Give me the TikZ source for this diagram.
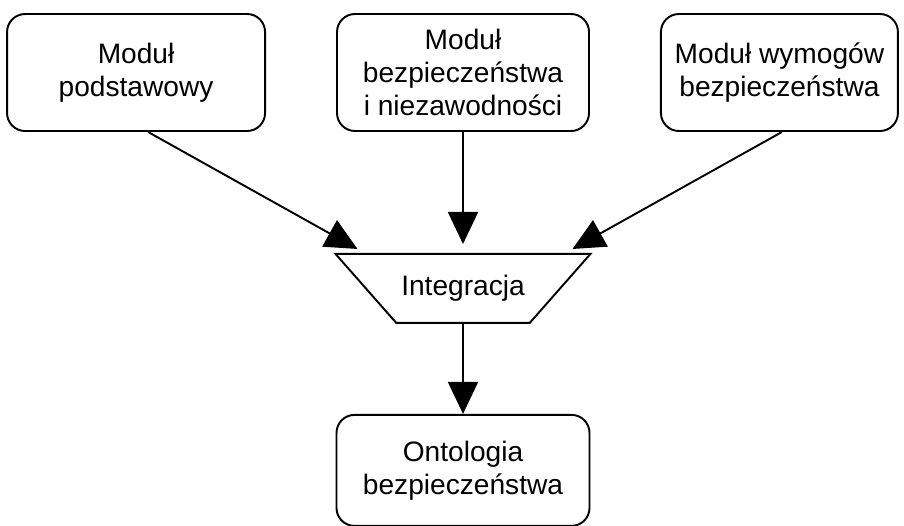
\documentclass[tikz,border=0pt]{standalone}
\usepackage{fontspec}
\setmainfont{Liberation Sans}
\usetikzlibrary{
	shapes.geometric,
	arrows.meta,
	positioning
}

\begin{document}
\begin{tikzpicture}[
				modul/.style={
					rectangle, draw, rounded corners=0.36cm,
					line width=1.1pt, inner sep=0pt,
					minimum height=2.34cm,
					align=center, font=\fontsize{16}{18.6}\selectfont
				},
				integr/.style={
					trapezium, draw, shape border rotate=180,
					trapezium angle=25, trapezium stretches=true,
					minimum width=5.1cm, minimum height=1.38cm,
					line width=1.1pt, inner sep=0pt,
					font=\fontsize{16}{18.6}\selectfont
				},
				arrow/.style={-{Triangle[length=0.64cm, width=0.6cm]}, line width=1.1pt, black}
				]
				\useasboundingbox (0,0) rectangle (18.08,-10.5);
				
				% modul bezpieczenstwa (srodek)
				\node[modul, minimum width=5.04cm] (bezp) at (9.26,-1.45) {Moduł\\bezpieczeństwa\\i niezawodności};
				
				% modul podstawowy
				\node[modul, minimum width=5.16cm, left=1.4cm of bezp] (podst) {Moduł\\podstawowy};
				
				% modul wymogow
				\node[modul, minimum width=4.74cm, right=1.4cm of bezp] (wymog) {Moduł wymogów\\bezpieczeństwa};
				
				% integracja
				\node[integr, below=2.42cm of bezp] (integ) {Integracja};
				
				% ontologia
				\node[modul, minimum width=5.06cm, minimum height=2.22cm, below=1.8cm of integ] (onto) {Ontologia\\bezpieczeństwa};
				
				% strzalki
				\draw[arrow] ([xshift=0.24cm]podst.south) -- ([xshift=-2.11cm, yshift=0.08cm]integ.north);
				\draw[arrow] (bezp.south) -- ([yshift=0.18cm]integ.north);
				\draw[arrow] ([xshift=0.05cm]wymog.south) -- ([xshift=2.19cm, yshift=0.08cm]integ.north);
				\draw[arrow] (integ.south) -- (onto.north);
			\end{tikzpicture}
\end{document}
